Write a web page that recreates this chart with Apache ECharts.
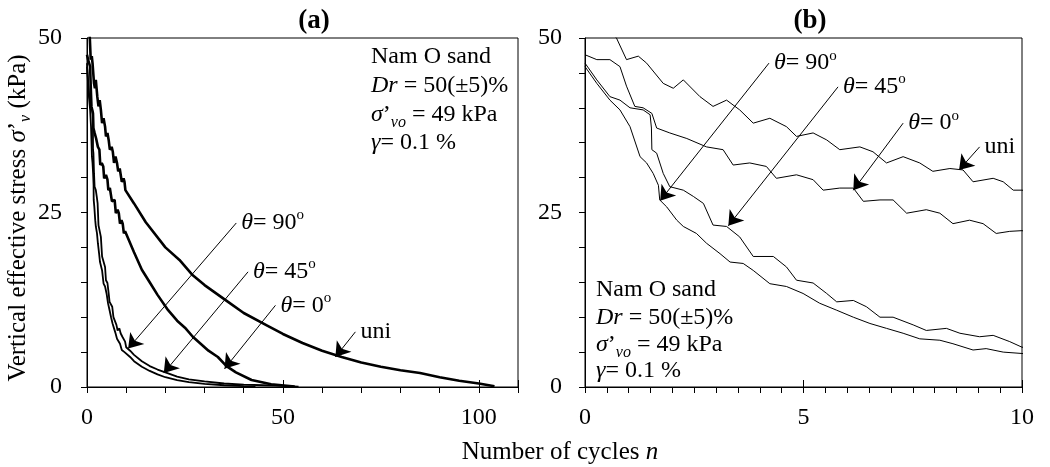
<!DOCTYPE html>
<html><head><meta charset="utf-8">
<script src="https://cdn.jsdelivr.net/npm/echarts@6/dist/echarts.min.js"></script>
<style>html,body{margin:0;padding:0;background:#fff}#c{width:1050px;height:467px}</style>
</head><body><div id="c"></div>
<script>
// ---- data: [n, sigma'_v (kPa)] ----
const uni = [[0,54],[0.4,52],[0.72,50],[0.95,46.9],[1.22,47.4],[1.41,46.4],[1.79,43.5],[2.02,42.8],[2.25,44.0],[2.63,41.6],[2.93,40.2],[3.24,41.1],[3.54,39.7],[3.85,37.8],[4.23,38.5],[4.61,37.3],[4.84,35.9],[5.22,36.4],[5.53,35.4],[5.83,34.0],[6.29,34.4],[6.59,33.7],[6.9,32.1],[7.28,33.0],[7.66,32.1],[7.96,30.9],[8.35,31.3],[8.65,31.1],[8.88,29.4],[9.34,29.9],[9.57,29.4],[9.8,28.2],[10,28.2],
  [12,26.3],[15,23.6],[20,20.0],[23.6,18.2],[27,16.0],[30,14.6],[36,12.2],[40,10.6],[46,8.8],[50,7.6],[55,6.3],[60,5.2],[65,4.3],[70,3.5],[75,2.9],[80,2.4],[85,2.0],[90,1.4],[95,0.9],[100,0.5],[104,0.1]];
const th0 = [[0,47.6],[0.27,46.9],[0.57,46.9],[0.8,45.9],[0.95,43.1],[1.14,40.2],[1.33,40.0],[1.53,39.2],[1.64,37.1],[1.94,36.4],[2.33,35.6],[2.78,34.4],[3.16,34.0],[3.39,31.8],[3.77,32.1],[4.15,31.6],[4.38,29.9],[4.84,30.4],[5.22,29.7],[5.45,28.2],[5.83,28.5],[6.14,28.5],[6.37,26.6],[6.75,26.8],[7.05,26.8],[7.36,24.9],[7.81,25.4],[8.12,24.9],[8.42,23.4],[8.8,23.9],[9.11,23.4],[9.41,22.0],[9.72,22.3],[10,22.4],
  [12,19.3],[14,16.8],[16,15.0],[18,13.2],[20.7,11.0],[23,9.5],[25,8.5],[27,7.2],[29,6.2],[31,5.2],[33.4,4.3],[35.6,3.0],[38,2.1],[42,1.0],[47,0.4],[53,0.05]];
const th45 = [[0,46.4],[0.27,44.0],[0.57,41.6],[0.8,41.1],[1.03,40.0],[1.33,39.7],[1.49,39.0],[1.52,37.1],[1.53,34.0],[1.64,33.5],[1.79,30.6],[1.94,28.7],[2.25,28.2],[2.48,27.3],[2.71,26.3],[2.93,23.2],[3.24,23.0],[3.54,21.5],[3.85,18.7],[4.31,18.7],[4.61,17.2],[4.84,15.3],[5.22,14.9],[5.53,13.4],[5.76,12.2],[6.14,12.4],[6.44,11.5],[6.75,10.0],[7.05,10.0],[7.51,8.9],[7.81,8.1],[8.27,8.4],[8.58,7.7],[9.03,7.2],[9.34,7.4],[9.72,6.5],[10,5.7],
  [11,5.2],[12,4.6],[14,3.7],[16,3.0],[18,2.5],[20,2.1],[23,1.5],[26,1.1],[30,0.8],[35,0.5],[40,0.35],[45,0.25],[50,0.15],[54,0.05]];
const th90 = [[0,45.9],[0.27,43.5],[0.57,41.1],[0.8,39.7],[1.03,37.3],[1.26,33.0],[1.41,32.1],[1.56,30.6],[1.68,28.9],[1.71,26.8],[1.87,25.8],[2.1,23.9],[2.25,23.0],[2.55,22.0],[2.78,20.6],[3.09,19.1],[3.32,17.9],[3.62,17.7],[3.85,16.7],[4.23,14.8],[4.61,14.4],[4.99,13.4],[5.37,12.0],[5.76,11.0],[6.14,10.0],[6.52,9.1],[6.9,8.4],[7.28,7.7],[7.66,6.9],[8.12,6.7],[8.42,6.2],[8.88,5.3],[9.18,5.5],[9.57,5.0],[10,4.8],
  [11,4.3],[12,3.7],[14,2.9],[16,2.3],[18,1.8],[20,1.4],[23,1.0],[26,0.7],[30,0.45],[35,0.25],[40,0.12],[43,0.05]];
const yTickLabels = [0, 25, 50];
const xTickLabelsA = [0, 50, 100];
const xTickLabelsB = [0, 5, 10];
// annotation arrows [from, to] in data coords
const arrowsA = {uni:[[68.5,7.9],[63.4,4.3]], th0:[[48.1,11.7],[35.1,2.6]], th45:[[41.1,16.5],[19.6,2.0]], th90:[[38.1,23.5],[10.5,5.5]]};
const arrowsB = {uni:[[9.03,34.4],[8.56,31.1]], th0:[[7.28,37.8],[6.14,28.2]], th45:[[5.79,43.0],[3.28,23.1]], th90:[[4.21,46.4],[1.72,26.7]]};
const labels = {uni:'uni', th0:'{i|θ}= 0{sup|o}', th45:'{i|θ}= 45{sup|o}', th90:'{i|θ}= 90{sup|o}'};

const FONT = '"Liberation Serif","Times New Roman",serif';
const FS = 24;
const TFS = 24;
const richL = {
  i: {fontFamily: FONT, fontSize: FS, fontStyle: 'italic', color: '#000', lineHeight: 30, verticalAlign: 'middle'},
  sup: {fontFamily: FONT, fontSize: 15, color: '#000', verticalAlign: 'top', lineHeight: 30}
};
const richG = {
  i: {fontFamily: FONT, fontSize: FS, fontStyle: 'italic', fill: '#000', lineHeight: 30, verticalAlign: 'middle'},
  sub: {fontFamily: FONT, fontSize: 16, fontStyle: 'italic', fill: '#000', verticalAlign: 'bottom', lineHeight: 32}
};
const richY = {
  i: {fontFamily: FONT, fontSize: 25, fontStyle: 'italic', fill: '#000', lineHeight: 30, verticalAlign: 'middle'},
  sub: {fontFamily: FONT, fontSize: 16, fontStyle: 'italic', fill: '#000', verticalAlign: 'bottom', lineHeight: 32}
};

const chart = echarts.init(document.getElementById('c'), null, {renderer: 'canvas'});

function xAxes(grid, max, interval, majors, labelList) {
  return [{
    type: 'value', gridIndex: grid, min: 0, max: max, interval: interval,
    axisLine: {show: true, lineStyle: {color: '#000', width: 1}},
    axisTick: {show: true, inside: false, length: 6, lineStyle: {color: '#000'}},
    splitLine: {show: false},
    axisLabel: {show: true, margin: 19, color: '#000', fontFamily: FONT, fontSize: TFS,
      formatter: v => labelList.some(t => Math.abs(t - v) < 1e-9) ? String(v) : ''}
  }, {
    type: 'value', gridIndex: grid, min: 0, max: max, interval: majors, position: 'bottom',
    axisLine: {show: false}, axisLabel: {show: false}, splitLine: {show: false},
    axisTick: {show: true, inside: true, length: 7, lineStyle: {color: '#000'}}
  }];
}
function yAxis(grid, margin) {
  return {
    type: 'value', gridIndex: grid, min: 0, max: 50, interval: 5,
    axisLine: {show: true, lineStyle: {color: '#000', width: 1}},
    axisTick: {show: true, inside: false, length: 6, lineStyle: {color: '#000'}},
    splitLine: {show: false},
    axisLabel: {show: true, margin: margin, color: '#000', fontFamily: FONT, fontSize: TFS,
      formatter: v => yTickLabels.includes(v) ? String(v) : ''}
  };
}
function mkSeries(key, data, xi, yi, width, arrows) {
  const a = arrows[key];
  return {
    type: 'line', xAxisIndex: xi, yAxisIndex: yi, data: data, showSymbol: false, clip: true,
    lineStyle: {color: '#000', width: width}, silent: true, animation: false,
    markLine: {silent: true, animation: false, symbol: ['none', 'arrow'], symbolSize: 14,
      lineStyle: {color: '#000', width: 1, type: 'solid'}, itemStyle: {color: '#000'}, label: {show: false},
      emphasis: {disabled: true},
      data: [[{coord: a[0]}, {coord: a[1]}]]},
    markPoint: {silent: true, animation: false, symbol: 'circle', symbolSize: 0,
      label: {show: true, position: 'right', distance: 5, formatter: labels[key], rich: richL,
        fontFamily: FONT, fontSize: FS, color: '#000'},
      data: [{coord: a[0]}]}
  };
}

const series = [];
[['uni', uni], ['th0', th0], ['th45', th45], ['th90', th90]].forEach(([k, d]) => {
  series.push(mkSeries(k, d, 0, 0, (k === 'uni' || k === 'th0') ? 2.6 : 1.8, arrowsA));
  series.push(mkSeries(k, d, 2, 1, 1, arrowsB));
});

function gtext(x, y, text, extra, rich) {
  return {type: 'text', x: x, y: y, silent: true,
    style: Object.assign({text: text, fontFamily: FONT, fontSize: FS, fill: '#000',
      textAlign: 'left', textVerticalAlign: 'middle', rich: rich || richG}, extra || {})};
}
const infoA = [371, [57, 86, 115, 143]];
const infoB = [596, [290, 318, 345, 371]];
const infoLines = ['Nam O sand', '{i|Dr} = 50(±5)%', '{i|σ}’{sub|vo} = 49 kPa', '{i|γ}= 0.1 %'];
const graphics = [];
[infoA, infoB].forEach(([x, ys]) => infoLines.forEach((t, i) => graphics.push(gtext(x, ys[i], t))));
graphics.push(gtext(314, 21, '(a)', {textAlign: 'center', fontWeight: 'bold', fontSize: 27}));
graphics.push(gtext(810, 21, '(b)', {textAlign: 'center', fontWeight: 'bold', fontSize: 27}));
graphics.push(gtext(560, 452, 'Number of cycles {i|n}', {textAlign: 'center', fontSize: 25}, richY));
graphics.push({type: 'text', x: 18, y: 218, rotation: Math.PI / 2, silent: true,
  style: {text: 'Vertical effective stress {i|σ}’{sub|v} (kPa)', fontFamily: FONT, fontSize: 25, fill: '#000',
    textAlign: 'center', textVerticalAlign: 'middle', rich: richY}});

chart.setOption({
  animation: false,
  backgroundColor: '#fff',
  grid: [
    {left: 87, top: 38, width: 431, height: 349, show: true, borderColor: '#000', borderWidth: 1, backgroundColor: 'transparent'},
    {left: 585, top: 38, width: 437, height: 349, show: true, borderColor: '#000', borderWidth: 1, backgroundColor: 'transparent'}
  ],
  xAxis: [...xAxes(0, 110, 10, 50, xTickLabelsA), ...xAxes(1, 10, 0.5, 5, xTickLabelsB)],
  yAxis: [yAxis(0, 25), yAxis(1, 23)],
  series: series,
  graphic: graphics
});
</script></body></html>
